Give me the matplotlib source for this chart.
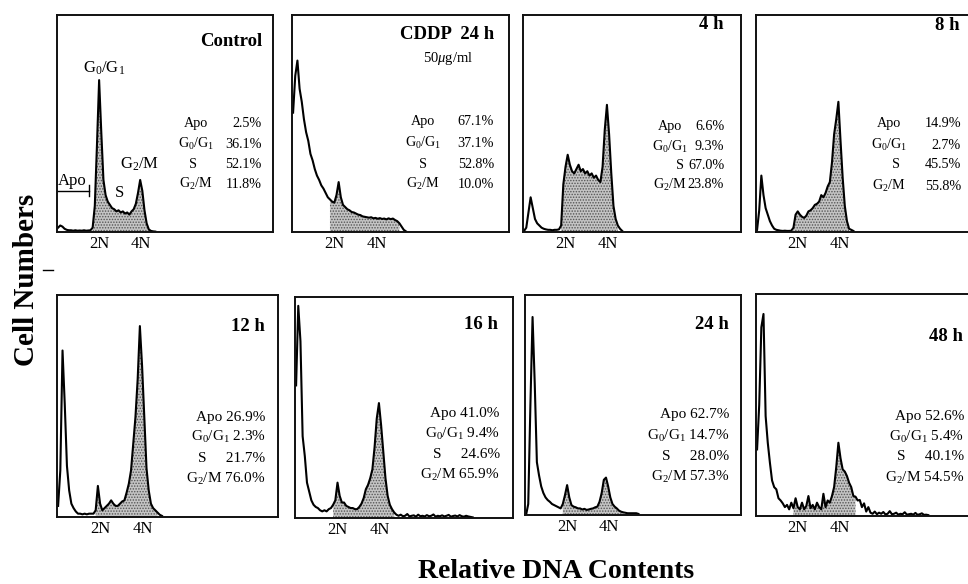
import numpy as np
import matplotlib
matplotlib.use('Agg')
import matplotlib.pyplot as plt

# histogram heights (percent of panel height), one value per channel bin (2N ~ 19.5, 4N ~ 39)
control = [2, 3, 2.5, 1.5, 1, 0.8, 0.8, 0.6, 0.8, 0.6, 0.7, 0.6, 0.8, 0.6, 0.7, 0.8,
           2, 12, 40, 70, 46, 24, 17, 14, 12.5, 11, 10.5, 9.5, 10, 9, 9.5, 8.5, 9, 8,
           9.5, 10.5, 13, 18, 24, 19, 10, 4, 1.2, 0.5, 0.3, 0.2]
cddp24 = [55, 72, 79, 66, 60, 52, 46, 42, 36, 33, 29, 26, 24, 21.5, 20, 18, 16, 15, 14,
          13.5, 17, 23, 16, 12.5, 11.5, 10.5, 10, 9.2, 9, 8.5, 8, 7.8, 7.2, 7, 6.8, 6.6,
          6.8, 6.3, 6.5, 6.1, 6.4, 6, 6.2, 5.8, 6.3, 5.9, 6.2, 5.5, 5, 4, 2.5, 1, 0.3]
h4 = [0.5, 2, 9, 16, 11, 6, 4, 3, 2, 1.5, 1.2, 1, 1, 0.8, 1, 1, 1.2, 3, 22, 30, 35.6,
      31, 28, 27, 29, 31, 28, 29, 27, 28, 26, 27, 25, 26, 24, 23, 30, 47, 58.6, 45, 27,
      12, 6, 3, 1.5, 0.5]
h8 = [1, 10, 26, 17, 11, 8, 5, 3, 1.5, 1, 0.8, 0.6, 0.5, 0.6, 0.5, 0.5, 0.6, 2, 8, 9.5,
      8, 7, 6.5, 7.5, 9.5, 10, 11, 12.5, 13, 14, 17, 16, 18, 21, 23, 32, 45, 52, 60, 42,
      25, 12, 5, 1.5, 1, 0.5]
h12 = [5, 21, 75, 51, 23, 12, 6, 4, 2.5, 1.5, 1.5, 1.2, 1.5, 1.2, 1.5, 1.5, 1.5, 3, 14,
       6, 3, 4, 5, 6, 7.5, 6, 5, 5, 6, 7, 7.5, 11, 15, 21, 33, 45, 62, 86, 68, 45, 22,
       12, 6, 4, 3, 2, 1, 0.5]
h16 = [60, 96, 80, 37, 28, 16, 12, 8, 6, 5, 4.5, 3.5, 3, 3.5, 3, 4, 4.5, 6, 8, 16, 10,
       7, 7, 5.5, 5, 4.5, 4.5, 4, 4, 5, 6.5, 9, 13, 15, 18, 22, 32, 45, 52, 42, 30, 18,
       10, 6, 4, 2.5, 1.5, 1, 1.5, 0.8, 1, 1.8, 0.7, 1, 1.2, 0.6, 1.5, 0.8, 1, 0.7, 1.3,
       0.8, 1, 1.6, 0.6, 1, 0.8, 1.2, 0.7, 1, 1.4, 0.6, 0.9, 1.1, 0.7, 1.3, 0.8, 0.6,
       1, 0.7, 0.5, 0.3]
h24 = [0, 5, 50, 90, 60, 24, 18, 13, 10, 8, 6.8, 6, 5, 4.5, 4, 3.5, 3, 5, 9, 13.6, 8,
       4.5, 3.8, 3.5, 3, 3, 2.5, 2.8, 2.3, 2.5, 2.8, 3, 3.5, 3.8, 6, 10, 16, 17, 13, 8, 5,
       3.8, 3, 2, 1.5, 1.2, 1, 0.8, 0.8, 0.8, 0.8, 0.8, 0.5]
h48 = [30, 50, 85, 91, 45, 33, 24, 16, 13, 12, 8, 7, 5.7, 4, 5, 3, 6, 3.5, 8, 4, 3, 6,
       3, 4.5, 9, 3.5, 5, 3, 6, 4, 3, 10, 4, 7, 6, 9, 13, 22, 33, 26, 21, 20, 18, 15, 13,
       9, 8.7, 7, 7.2, 4, 5.7, 2, 4, 1.5, 1, 2, 0.8, 1.5, 1, 1.8, 0.7, 1, 2.2, 0.8, 1,
       1.5, 0.6, 1, 0.8, 1.7, 0.6, 0.8, 1, 0.6, 1.4, 0.5, 0.8, 1.2, 0.5, 0.6, 0.4]

titles = ['Control', 'CDDP  24 h', '4 h', '8 h', '12 h', '16 h', '24 h', '48 h']
series = [control, cddp24, h4, h8, h12, h16, h24, h48]
shade = [(16, 43), (17, 50), (17, 44), (17, 44), (17, 46), (17, 46), (17, 46), (17, 47)]
apo = ['2.5%', '67.1%', '6.6%', '14.9%', '26.9%', '41.0%', '62.7%', '52.6%']
g0g1 = ['36.1%', '37.1%', '9.3%', '2.7%', '2.3%', '9.4%', '14.7%', '5.4%']
s_phase = ['52.1%', '52.8%', '67.0%', '45.5%', '21.7%', '24.6%', '28.0%', '40.1%']
g2m = ['11.8%', '10.0%', '23.8%', '55.8%', '76.0%', '65.9%', '57.3%', '54.5%']
tick_pos = [19.5, 39]
tick_labels = ['2N', '4N']

plt.rcParams['font.family'] = ['Liberation Serif', 'DejaVu Serif']
plt.rcParams['mathtext.fontset'] = 'custom'
plt.rcParams['mathtext.rm'] = 'Liberation Serif'
plt.rcParams['mathtext.it'] = 'Liberation Serif:italic'
plt.rcParams['mathtext.bf'] = 'Liberation Serif:bold'
plt.rcParams['hatch.color'] = '#555555'
plt.rcParams['hatch.linewidth'] = 0.7

W, H = 968, 584
fig = plt.figure(figsize=(W / 100, H / 100), dpi=100)

# panel boxes in pixels: left, right, top, bottom
boxes = [(57, 273, 15, 232), (292, 509, 15, 232), (523, 741, 15, 232), (756, 970, 15, 232),
         (57, 278, 295, 517), (295, 513, 297, 518), (525, 741, 295, 515), (756, 970, 294, 516)]
# per panel text layout (title x, title y, value x, rows y)
title_xy = [(0.949, 0.877), (0.932, 0.908), (0.92, 0.954), (0.953, 0.95),
            (0.94, 0.857), (0.931, 0.875), (0.943, 0.864), (0.969, 0.808)]
top_rows = [[0.50, 0.405, 0.31, 0.22], [0.51, 0.41, 0.31, 0.22],
            [0.486, 0.394, 0.307, 0.218], [0.50, 0.40, 0.31, 0.21]]
top_label_x = [(0.645, 0.63), (0.605, 0.605), (0.675, 0.72), (0.62, 0.655)]
top_value_x = [0.949, 0.932, 0.923, 0.958]
bot_rows = [[0.45, 0.36, 0.263, 0.173], [0.475, 0.38, 0.287, 0.196],
            [0.455, 0.36, 0.265, 0.171], [0.447, 0.357, 0.267, 0.17]]
bot_value_x = [0.944, 0.939, 0.947, 0.973]

G01 = r'G$_0$/G$_1$'
G2M = r'G$_2$/M'
fs_top = 10.2
fs_bot = 11

for i, (l, r, t, b) in enumerate(boxes):
    ax = fig.add_axes([l / W, 1 - b / H, (r - l) / W, (b - t) / H])
    y = np.array(series[i], dtype=float)
    x = np.arange(len(y)) + 0.5
    lo, hi = shade[i]
    m = (x >= lo) & (x <= hi)
    ax.fill_between(x[m], y[m], 0, facecolor='#c4c4c4', hatch='......',
                    edgecolor='#555555', linewidth=0)
    ax.plot(x, y, color='black', lw=1.5)
    ax.set_xlim(0, 100)
    ax.set_ylim(0, 100)
    ax.set_yticks([])
    ax.set_xticks(tick_pos)
    ax.set_xticklabels(tick_labels, fontsize=12)
    ax.tick_params(axis='x', length=0, pad=3)
    for sp in ax.spines.values():
        sp.set_linewidth(1.4)
        sp.set_color('#111111')

    tx, ty = title_xy[i]
    ax.text(tx, ty, titles[i], transform=ax.transAxes, ha='right', va='center',
            fontsize=13.5, fontweight='bold')

    if i < 4:
        rows = top_rows[i]
        lx, sx = top_label_x[i]
        vx = top_value_x[i]
        for lab, val, ry, cx in zip(['Apo', G01, 'S', G2M],
                                    [apo[i], g0g1[i], s_phase[i], g2m[i]],
                                    rows, [lx, lx, sx, lx]):
            ax.text(cx, ry, lab, transform=ax.transAxes, ha='center', va='center',
                    fontsize=fs_top)
            ax.text(vx, ry, val, transform=ax.transAxes, ha='right', va='center',
                    fontsize=fs_top)
    else:
        k = i - 4
        rows = bot_rows[k]
        lines = ['Apo ' + apo[i], G01 + ' ' + g0g1[i], 'S     ' + s_phase[i],
                 G2M + ' ' + g2m[i]]
        for txt, ry in zip(lines, rows):
            ax.text(bot_value_x[k], ry, txt, transform=ax.transAxes, ha='right',
                    va='center', fontsize=fs_bot)

    if i == 0:
        ax.text(21.8, 75.5, G01, ha='center', va='center', fontsize=12)
        ax.text(38.2, 31, G2M, ha='center', va='center', fontsize=12)
        ax.text(28.8, 18, 'S', ha='center', va='center', fontsize=12)
        ax.text(7, 23.5, 'Apo', ha='center', va='center', fontsize=12)
        ax.plot([0, 14.8], [19, 19], color='black', lw=1)
        ax.plot([14.8, 14.8], [16.5, 21.5], color='black', lw=1)
    if i == 1:
        ax.text(0.72, 0.80, r'50$\mu$g/ml', transform=ax.transAxes, ha='center',
                va='center', fontsize=10.5)

fig.text(27 / W, 1 - 280 / H, 'Cell Numbers', rotation=90, ha='center', va='center',
         fontsize=21, fontweight='bold')
fig.text(556 / W, 1 - 571 / H, 'Relative DNA Contents', ha='center', va='center',
         fontsize=20, fontweight='bold')
# small mark between the rows on the left
fig.add_artist(plt.Line2D([43 / W, 53 / W], [1 - 270 / H, 1 - 270 / H], color='black', lw=1))

fig.savefig('out.png', dpi=100)
